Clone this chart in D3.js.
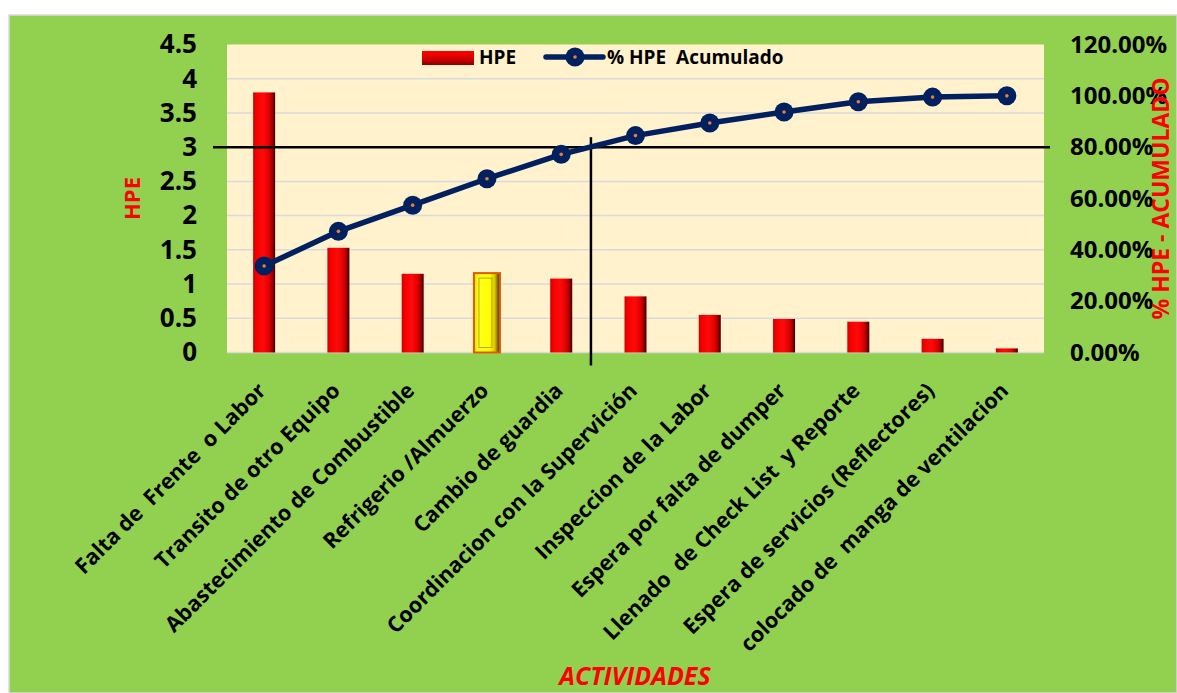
<!DOCTYPE html>
<html>
<head>
<meta charset="utf-8">
<script src="https://cdn.jsdelivr.net/npm/d3@7/dist/d3.min.js"></script>
<style>
  html, body { margin: 0; padding: 0; background: #ffffff; }
  svg { display: block; font-family: "Open Sans", "Noto Sans", sans-serif; }
  text { white-space: pre; }
</style>
</head>
<body>
<svg id="chart" width="1177" height="693"></svg>
<script>
// Activities (Pareto order) and hours lost (HPE) per activity
const actividades = [
  "Falta de  Frente  o Labor",
  "Transito de otro Equipo",
  "Abastecimiento de Combustible",
  "Refrigerio /Almuerzo",
  "Cambio de guardia",
  "Coordinacion con la Supervición",
  "Inspeccion de la Labor",
  "Espera por falta de dumper",
  "Llenado  de Check List  y Reporte",
  "Espera de servicios (Reflectores)",
  "colocado de  manga de ventilacion"
];
const hpe = [3.8, 1.53, 1.15, 1.16, 1.08, 0.82, 0.55, 0.49, 0.45, 0.2, 0.06];
const hpeAcumulado = [33.7, 47.2, 57.4, 67.7, 77.2, 84.5, 89.4, 93.7, 97.7, 99.5, 100];

const hpeTicks = [0, 0.5, 1, 1.5, 2, 2.5, 3, 3.5, 4, 4.5];
const pctTicks = [0, 20, 40, 60, 80, 100, 120];
const seriesNames = ["HPE", "% HPE  Acumulado"];
const destacada = "Refrigerio /Almuerzo";
const cortePareto = 80;          // 80 % cut-off line

const svg = d3.select("#chart");
const W = 1177, H = 693;
const plot = { left: 227, right: 1044, top: 44.5, bottom: 352.5 };

const x = d3.scaleBand().domain(actividades).range([plot.left, plot.right]);
const y = d3.scaleLinear().domain([0, 4.5]).range([plot.bottom, plot.top]);
const y2 = d3.scaleLinear().domain([0, 120]).range([plot.bottom, plot.top]);
const cx = d => x(d) + x.bandwidth() / 2;

// gradients
const defs = svg.append("defs");
const redGrad = defs.append("linearGradient").attr("id", "barRed")
  .attr("x1", "0").attr("x2", "1").attr("y1", "0").attr("y2", "0");
[["0%", "#c80000"], ["12%", "#f20000"], ["45%", "#ff0a0a"], ["72%", "#e00000"], ["88%", "#9a0000"], ["100%", "#3a0000"]]
  .forEach(([o, c]) => redGrad.append("stop").attr("offset", o).attr("stop-color", c));
const yelGrad = defs.append("linearGradient").attr("id", "barYellow")
  .attr("x1", "0").attr("x2", "1").attr("y1", "0").attr("y2", "0");
[["0%", "#e8e000"], ["20%", "#ffff20"], ["60%", "#ffff00"], ["80%", "#d8c800"], ["100%", "#3a2000"]]
  .forEach(([o, c]) => yelGrad.append("stop").attr("offset", o).attr("stop-color", c));
const legGrad = defs.append("linearGradient").attr("id", "legRed")
  .attr("x1", "0").attr("x2", "0").attr("y1", "0").attr("y2", "1");
[["0%", "#ff0000"], ["45%", "#e00000"], ["100%", "#8a0000"]]
  .forEach(([o, c]) => legGrad.append("stop").attr("offset", o).attr("stop-color", c));

// chart area
svg.append("rect").attr("x", 9).attr("y", 15).attr("width", W - 9).attr("height", H - 15)
  .attr("fill", "#92d050").attr("stroke", "#d9d9d9").attr("stroke-width", 1.5);

// plot area
svg.append("rect").attr("x", plot.left).attr("y", plot.top)
  .attr("width", plot.right - plot.left).attr("height", plot.bottom - plot.top)
  .attr("fill", "#fff2cc");

// gridlines
svg.append("g").selectAll("line")
  .data(hpeTicks.filter(t => t < 4.5))
  .join("line")
  .attr("x1", plot.left).attr("x2", plot.right)
  .attr("y1", d => y(d)).attr("y2", d => y(d))
  .attr("stroke", "#d9d9de").attr("stroke-width", 1.5);

// left axis
const axL = svg.append("g").attr("transform", `translate(${plot.left},0)`)
  .call(d3.axisLeft(y).tickValues(hpeTicks).tickSize(0).tickPadding(30).tickFormat(d => String(d)));
axL.select(".domain").remove();
axL.selectAll("text").attr("font-size", 26).attr("font-weight", 700).attr("fill", "#000")
  .attr("font-family", "Open Sans");

// right axis
const axR = svg.append("g").attr("transform", `translate(${plot.right},0)`)
  .call(d3.axisRight(y2).tickValues(pctTicks).tickSize(0).tickPadding(26)
    .tickFormat(d => d3.format(".2f")(d) + "%"));
axR.select(".domain").remove();
axR.selectAll("text").attr("font-size", 24).attr("font-weight", 700).attr("fill", "#000")
  .attr("font-family", "Open Sans");

// bars
const barW = 22;
const bars = svg.append("g");
actividades.forEach((a, i) => {
  const v = hpe[i];
  const hi = a === destacada;
  const w = hi ? 26 : barW;
  bars.append("rect")
    .attr("x", cx(a) - w / 2).attr("y", y(v))
    .attr("width", w).attr("height", y(0) - y(v))
    .attr("fill", hi ? "url(#barYellow)" : "url(#barRed)")
    .attr("stroke", hi ? "#e05a00" : "none").attr("stroke-width", hi ? 2 : 0);
  if (hi) {
    bars.append("rect")
      .attr("x", cx(a) - w / 2 + 5).attr("y", y(v) + 5)
      .attr("width", w - 13).attr("height", y(0) - y(v) - 10)
      .attr("fill", "none").attr("stroke", "#b8a800").attr("stroke-width", 1);
  }
});

// Pareto cut-off lines
const yCut = y2(cortePareto);
svg.append("line").attr("x1", plot.left - 14).attr("x2", plot.right + 6)
  .attr("y1", yCut).attr("y2", yCut).attr("stroke", "#000").attr("stroke-width", 2.5);
const xCut = cx(actividades[4]) + x.step() * 0.4;
svg.append("line").attr("x1", xCut).attr("x2", xCut)
  .attr("y1", yCut - 10).attr("y2", plot.bottom + 13)
  .attr("stroke", "#000").attr("stroke-width", 2.5);

// cumulative line
const navy = "#002060";
svg.append("path")
  .datum(hpeAcumulado)
  .attr("d", d3.line().x((d, i) => cx(actividades[i])).y(d => y2(d)))
  .attr("fill", "none").attr("stroke", navy).attr("stroke-width", 5.5)
  .attr("stroke-linejoin", "round");
const pts = svg.append("g").selectAll("g").data(hpeAcumulado).join("g")
  .attr("transform", (d, i) => `translate(${cx(actividades[i])},${y2(d)})`);
pts.append("circle").attr("r", 9.5).attr("fill", navy);
pts.append("circle").attr("r", 1.8).attr("fill", "#ed7d31");

// category labels
svg.append("g").selectAll("text").data(actividades).join("text")
  .attr("xml:space", "preserve")
  .attr("transform", d => `translate(${cx(d) + 3},${392}) rotate(-45)`)
  .attr("text-anchor", "end")
  .attr("font-size", 21.5).attr("font-weight", 700).attr("fill", "#000")
  .text(d => d);

// legend
const lg = svg.append("g");
lg.append("rect").attr("x", 422).attr("y", 51).attr("width", 52).attr("height", 14)
  .attr("fill", "url(#legRed)");
lg.append("text").attr("x", 479).attr("y", 64).attr("font-size", 19).attr("font-weight", 700)
  .text(seriesNames[0]);
lg.append("line").attr("x1", 546).attr("x2", 603).attr("y1", 57).attr("y2", 57)
  .attr("stroke", navy).attr("stroke-width", 5.5).attr("stroke-linecap", "round");
lg.append("circle").attr("cx", 575).attr("cy", 57).attr("r", 9.5).attr("fill", navy);
lg.append("circle").attr("cx", 575).attr("cy", 57).attr("r", 1.8).attr("fill", "#ed7d31");
lg.append("text").attr("xml:space", "preserve").attr("x", 607).attr("y", 64)
  .attr("font-size", 19).attr("font-weight", 700)
  .text(seriesNames[1]);

// axis titles
svg.append("text")
  .attr("transform", `translate(${140},${(plot.top + plot.bottom) / 2}) rotate(-90)`)
  .attr("text-anchor", "middle").attr("font-size", 22).attr("font-weight", 700)
  .attr("fill", "#ff0000").text("HPE");
svg.append("text")
  .attr("transform", `translate(${1169},${(plot.top + plot.bottom) / 2}) rotate(-90)`)
  .attr("text-anchor", "middle").attr("font-size", 23).attr("font-weight", 700)
  .attr("fill", "#ff0000").text("% HPE - ACUMULADO");
svg.append("text")
  .attr("x", 635).attr("y", 685)
  .attr("text-anchor", "middle").attr("font-size", 25).attr("font-weight", 700)
  .attr("font-style", "italic").attr("fill", "#ff0000").text("ACTIVIDADES");
</script>
</body>
</html>
